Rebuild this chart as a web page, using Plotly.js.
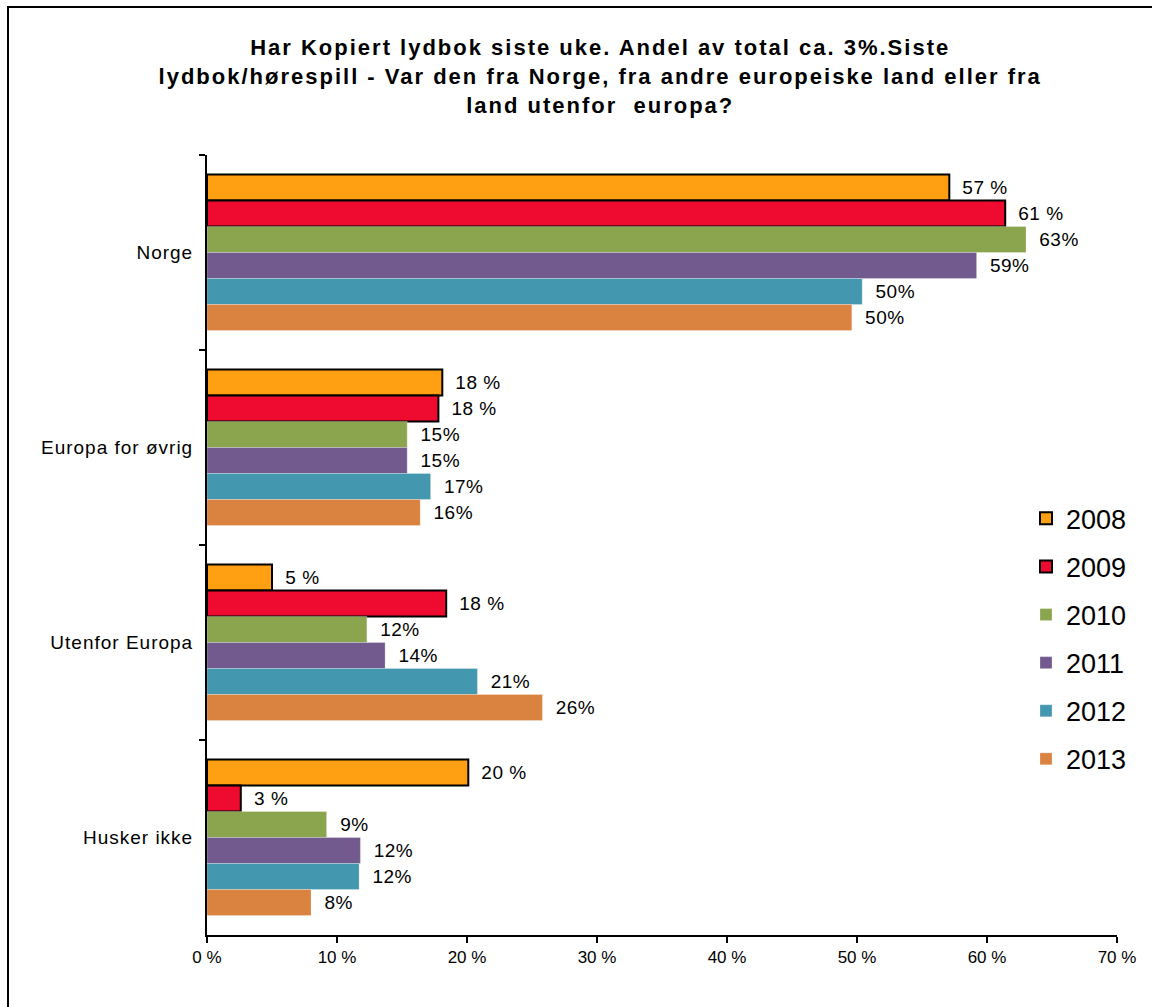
<!DOCTYPE html>
<html>
<head>
<meta charset="utf-8">
<script src="https://cdn.plot.ly/plotly-3.0.1.min.js"></script>
<style>
  html, body { margin: 0; padding: 0; overflow: hidden; background: #fff; }
  #chart { width: 1152px; height: 1007px; }
  #frame { position: absolute; left: 7px; top: 6px; width: 2000px; height: 2000px;
           border-top: 2px solid #000; border-left: 2px solid #000; pointer-events: none; }
  #chart .gtitle { letter-spacing: 2px; }
  #chart .bartext { letter-spacing: 0.5px; }
  #chart .ytick text { letter-spacing: 1px; }
</style>
</head>
<body>
<div id="chart"></div>
<div id="frame"></div>
<script>
const categories = ['Norge', 'Europa for øvrig', 'Utenfor Europa', 'Husker ikke'];
const years = ['2008', '2009', '2010', '2011', '2012', '2013'];
const v2008 = [57.1, 18.1, 5.0, 20.1];
const v2009 = [61.4, 17.8, 18.4, 2.6];
const v2010 = [63.0, 15.4, 12.3, 9.2];
const v2011 = [59.2, 15.4, 13.7, 11.8];
const v2012 = [50.4, 17.2, 20.8, 11.7];
const v2013 = [49.6, 16.4, 25.8, 8.0];
const xTickVals = [0, 10, 20, 30, 40, 50, 60, 70];
const xTickText = ['0 %', '10 %', '20 %', '30 %', '40 %', '50 %', '60 %', '70 %'];

const colors = ['#FF9F11', '#EF0A2F', '#8BA44E', '#735A8E', '#4397AF', '#DA823F'];
const seriesValues = [v2008, v2009, v2010, v2011, v2012, v2013];
const outlined = [true, true, false, false, false, false];

const traces = seriesValues.map((vals, i) => ({
  type: 'bar',
  orientation: 'h',
  name: years[i],
  legendgroup: years[i],
  x: vals,
  y: categories,
  marker: {
    color: colors[i],
    line: outlined[i] ? {color: '#000', width: 2} : {color: 'rgba(255,255,255,0.5)', width: 0.5}
  },
  texttemplate: outlined[i] ? '\u00a0\u00a0%{x:.0f} %' : '\u00a0\u00a0%{x:.0f}%',
  textposition: 'outside',
  cliponaxis: false,
  textfont: {family: 'Liberation Sans, Arial, sans-serif', size: 19, color: '#000'},
  hoverinfo: 'skip'
}));

const layout = {
  width: 1152,
  height: 1007,
  margin: {l: 207, r: 35, t: 155, b: 72},
  paper_bgcolor: '#fff',
  plot_bgcolor: '#fff',
  font: {family: 'Liberation Sans, Arial, sans-serif', color: '#000'},
  title: {
    text: 'Har Kopiert lydbok siste uke. Andel av total ca. 3%.Siste<br>lydbok/hørespill - Var den fra Norge, fra andre europeiske land eller fra<br>land utenfor  europa?',
    font: {family: 'Liberation Sans, Arial, sans-serif', size: 22, color: '#000', weight: 'bold'},
    x: 0.521,
    xanchor: 'center',
    y: 0.945,
    yanchor: 'top',
    xref: 'container',
    yref: 'container'
  },
  barmode: 'group',
  bargap: 0.2,
  bargroupgap: 0,
  xaxis: {
    range: [0, 70],
    tickvals: xTickVals,
    ticktext: xTickText,
    showgrid: false,
    zeroline: false,
    showline: true,
    linecolor: '#000',
    linewidth: 2,
    ticks: 'outside',
    ticklen: 6,
    tickwidth: 1.5,
    tickcolor: '#000',
    tickfont: {size: 17, family: 'Liberation Sans, Arial, sans-serif'},
    fixedrange: true
  },
  yaxis: {
    autorange: 'reversed',
    showgrid: false,
    zeroline: false,
    showline: true,
    linecolor: '#000',
    linewidth: 2,
    ticks: 'outside',
    tickson: 'boundaries',
    ticklen: 6,
    tickwidth: 1.5,
    tickcolor: '#000',
    tickfont: {size: 19, family: 'Liberation Sans, Arial, sans-serif'},
    ticklabelstandoff: 8,
    fixedrange: true
  },
  legend: {
    x: 0.9,
    xanchor: 'left',
    y: 0.565,
    yanchor: 'top',
    font: {size: 27, family: 'Liberation Sans, Arial, sans-serif'},
    tracegroupgap: 10,
    bgcolor: 'rgba(0,0,0,0)'
  },
  showlegend: true
};

Plotly.newPlot('chart', traces, layout, {displayModeBar: false, staticPlot: true});
</script>
</body>
</html>
